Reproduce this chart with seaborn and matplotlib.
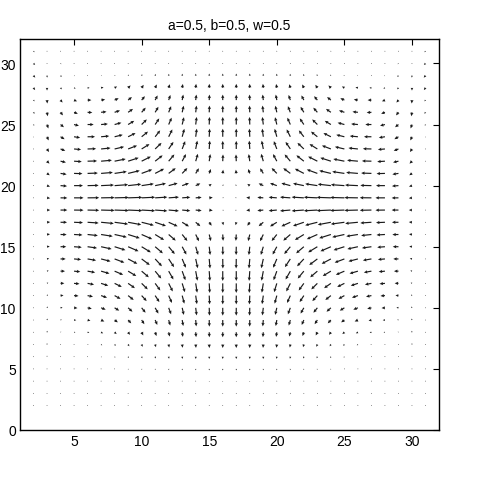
import numpy as np
import matplotlib
matplotlib.use("Agg")
import matplotlib.pyplot as plt
import seaborn as sns

# grid positions
x_vals = list(range(2, 32))          # 30 columns, x = 2..31
y_rows = list(range(31, 1, -1))      # rows listed top (y=31) to bottom (y=2)

# horizontal components, hundredths of an x unit, one row per y (top to bottom)
U_rows = [
    [8,2,1,1,1,1,1,1,1,1,1,1,1,1,1, -1,-1,-1,-1,-1,-1,-1,-1,-1,-1,-1,-1,-1,-2,-8],
    [12,2,6,3,2,2,2,1,1,0,0,0,0,0,0, 0,0,0,0,0,0,-1,-1,-2,-2,-2,-3,-6,-2,-12],
    [13,1,9,6,6,6,6,5,4,3,2,1,1,0,0, 0,0,-1,-1,-2,-3,-4,-5,-6,-6,-6,-6,-9,-1,-13],
    [12,0,10,12,15,18,18,18,15,12,8,5,3,1,0, 0,-1,-3,-5,-8,-12,-15,-18,-18,-18,-15,-12,-10,0,-12],
    [8,2,15,22,28,30,30,28,24,18,13,8,5,2,0, 0,-2,-5,-8,-13,-18,-24,-28,-30,-30,-28,-22,-15,-2,-8],
    [8,5,18,28,35,40,40,36,30,24,18,11,6,2,0, 0,-2,-6,-11,-18,-24,-30,-36,-40,-40,-35,-28,-18,-5,-8],
    [5,10,25,36,45,50,50,45,38,30,22,13,7,2,0, 0,-2,-7,-13,-22,-30,-38,-45,-50,-50,-45,-36,-25,-10,-5],
    [3,12,30,45,55,60,60,55,47,37,27,16,8,3,0, 0,-3,-8,-16,-27,-37,-47,-55,-60,-60,-55,-45,-30,-12,-3],
    [2,15,35,52,63,70,70,66,58,47,35,22,12,4,0, 0,-4,-12,-22,-35,-47,-58,-66,-70,-70,-63,-52,-35,-15,-2],
    [2,18,40,57,70,80,82,78,68,55,42,28,16,8,2, -2,-8,-16,-28,-42,-55,-68,-78,-82,-80,-70,-57,-40,-18,-2],
    [2,20,45,62,76,87,90,86,78,66,52,38,24,12,3, -3,-12,-24,-38,-52,-66,-78,-86,-90,-87,-76,-62,-45,-20,-2],
    [2,22,48,66,82,95,100,97,90,80,66,50,34,18,5, -5,-18,-34,-50,-66,-80,-90,-97,-100,-95,-82,-66,-48,-22,-2],
    [2,23,50,70,86,100,105,105,100,90,76,60,44,26,8, -8,-26,-44,-60,-76,-90,-100,-105,-105,-100,-86,-70,-50,-23,-2],
    [2,23,50,70,86,100,105,105,100,90,76,60,44,26,8, -8,-26,-44,-60,-76,-90,-100,-105,-105,-100,-86,-70,-50,-23,-2],
    [2,23,48,66,82,94,100,97,90,80,66,50,34,18,5, -5,-18,-34,-50,-66,-80,-90,-97,-100,-94,-82,-66,-48,-23,-2],
    [2,22,45,62,76,86,90,86,78,66,52,38,24,12,3, -3,-12,-24,-38,-52,-66,-78,-86,-90,-86,-76,-62,-45,-22,-2],
    [2,20,42,57,70,78,80,77,68,57,45,31,18,7,1, -1,-7,-18,-31,-45,-57,-68,-77,-80,-78,-70,-57,-42,-20,-2],
    [2,16,38,52,63,70,72,68,60,50,40,27,15,6,1, -1,-6,-15,-27,-40,-50,-60,-68,-72,-70,-63,-52,-38,-16,-2],
    [2,12,33,46,56,62,63,60,53,45,35,24,13,5,0, 0,-5,-13,-24,-35,-45,-53,-60,-63,-62,-56,-46,-33,-12,-2],
    [1,9,28,40,48,53,53,50,45,38,30,20,11,4,0, 0,-4,-11,-20,-30,-38,-45,-50,-53,-53,-48,-40,-28,-9,-1],
    [1,7,22,33,40,44,44,41,37,31,24,16,9,3,0, 0,-3,-9,-16,-24,-31,-37,-41,-44,-44,-40,-33,-22,-7,-1],
    [1,5,15,25,31,34,34,32,29,24,18,12,7,2,0, 0,-2,-7,-12,-18,-24,-29,-32,-34,-34,-31,-25,-15,-5,-1],
    [1,3,9,16,21,24,24,23,20,16,12,8,4,1,0, 0,-1,-4,-8,-12,-16,-20,-23,-24,-24,-21,-16,-9,-3,-1],
    [1,2,5,10,13,15,15,14,12,10,8,5,3,1,0, 0,-1,-3,-5,-8,-10,-12,-14,-15,-15,-13,-10,-5,-2,-1],
    [1,0,3,5,7,8,9,9,8,6,4,3,2,1,0, 0,-1,-2,-3,-4,-6,-8,-9,-9,-8,-7,-5,-3,0,-1],
    [1,0,2,3,4,5,5,5,5,4,3,2,1,0,0, 0,0,-1,-2,-3,-4,-5,-5,-5,-5,-4,-3,-2,0,-1],
    [1,2,1,2,2,2,3,3,3,2,2,1,1,0,0, 0,0,-1,-1,-2,-2,-3,-3,-3,-2,-2,-2,-1,-2,-1],
    [1,1,1,1,1,1,2,2,2,1,1,1,0,0,0, 0,0,0,-1,-1,-1,-2,-2,-2,-1,-1,-1,-1,-1,-1],
    [1,1,1,1,1,1,1,1,1,1,0,0,0,0,0, 0,0,0,0,0,-1,-1,-1,-1,-1,-1,-1,-1,-1,-1],
    [1,1,1,1,1,1,1,1,1,1,1,1,1,1,1, -1,-1,-1,-1,-1,-1,-1,-1,-1,-1,-1,-1,-1,-1,-1],
]

# vertical components, hundredths of a y unit, one row per y (top to bottom)
V_rows = [
    [-8,-3,1,1,1,1,1,1,1,1,1,1,1,1,1, 1,1,1,1,1,1,1,1,1,1,1,1,1,-3,-8],
    [-12,-6,-6,-1,0,0,1,4,5,5,5,5,5,5,5, 5,5,5,5,5,5,5,4,1,0,0,-1,-6,-6,-12],
    [-16,-16,-10,-3,0,2,5,9,12,14,15,16,16,17,17, 17,17,16,16,15,14,12,9,5,2,0,-3,-10,-16,-16],
    [-18,-22,-12,-5,0,5,12,20,25,28,30,32,33,33,33, 33,33,33,32,30,28,25,20,12,5,0,-5,-12,-22,-18],
    [-10,-28,-20,-10,0,5,15,25,32,38,42,45,45,45,45, 45,45,45,45,42,38,32,25,15,5,0,-10,-20,-28,-10],
    [-12,-32,-25,-12,-2,5,15,28,38,45,50,54,55,55,55, 55,55,55,54,50,45,38,28,15,5,-2,-12,-25,-32,-12],
    [-10,-32,-22,-10,0,5,15,30,42,50,56,60,62,62,62, 62,62,62,60,56,50,42,30,15,5,0,-10,-22,-32,-10],
    [-6,-30,-20,-8,0,6,16,30,42,52,60,65,66,66,66, 66,66,66,65,60,52,42,30,16,6,0,-8,-20,-30,-6],
    [-3,-25,-15,-5,2,8,18,28,40,50,58,64,68,68,66, 66,68,68,64,58,50,40,28,18,8,2,-5,-15,-25,-3],
    [0,-20,-10,-4,2,8,18,28,38,48,55,58,60,58,55, 55,58,60,58,55,48,38,28,18,8,2,-4,-10,-20,0],
    [0,-15,-8,-2,3,8,15,23,32,38,43,44,42,36,30, 30,36,42,44,43,38,32,23,15,8,3,-2,-8,-15,0],
    [0,-8,-4,0,2,5,8,12,15,18,20,20,18,14,10, 10,14,18,20,20,18,15,12,8,5,2,0,-4,-8,0],
    [0,-3,-1,0,1,2,3,4,5,6,6,5,4,3,2, 2,3,4,5,6,6,5,4,3,2,1,0,-1,-3,0],
    [0,0,0,-1,-2,-3,-4,-5,-6,-7,-7,-6,-5,-4,-3, -3,-4,-5,-6,-7,-7,-6,-5,-4,-3,-2,-1,0,0,0],
    [0,2,0,-3,-6,-10,-15,-20,-25,-30,-33,-34,-32,-28,-24, -24,-28,-32,-34,-33,-30,-25,-20,-15,-10,-6,-3,0,2,0],
    [1,3,-1,-4,-9,-15,-22,-30,-38,-45,-50,-53,-55,-54,-52, -52,-54,-55,-53,-50,-45,-38,-30,-22,-15,-9,-4,-1,3,1],
    [2,3,0,-5,-11,-19,-28,-37,-46,-54,-60,-64,-67,-68,-68, -68,-68,-67,-64,-60,-54,-46,-37,-28,-19,-11,-5,0,3,2],
    [3,4,0,-5,-12,-20,-30,-40,-50,-60,-67,-72,-76,-78,-78, -78,-78,-76,-72,-67,-60,-50,-40,-30,-20,-12,-5,0,4,3],
    [4,5,0,-5,-11,-20,-30,-40,-50,-60,-68,-74,-78,-80,-80, -80,-80,-78,-74,-68,-60,-50,-40,-30,-20,-11,-5,0,5,4],
    [5,7,1,-4,-10,-19,-29,-39,-49,-58,-66,-72,-76,-78,-78, -78,-78,-76,-72,-66,-58,-49,-39,-29,-19,-10,-4,1,7,5],
    [6,9,2,-3,-9,-17,-27,-36,-45,-53,-60,-66,-70,-72,-72, -72,-72,-70,-66,-60,-53,-45,-36,-27,-17,-9,-3,2,9,6],
    [6,11,3,-2,-8,-15,-23,-32,-40,-47,-53,-58,-62,-64,-64, -64,-64,-62,-58,-53,-47,-40,-32,-23,-15,-8,-2,3,11,6],
    [6,12,4,-1,-6,-12,-19,-27,-34,-40,-45,-49,-52,-54,-54, -54,-54,-52,-49,-45,-40,-34,-27,-19,-12,-6,-1,4,12,6],
    [5,12,5,0,-4,-9,-15,-21,-26,-31,-35,-38,-40,-41,-41, -41,-41,-40,-38,-35,-31,-26,-21,-15,-9,-4,0,5,12,5],
    [5,11,5,1,-3,-7,-11,-15,-19,-22,-25,-27,-28,-29,-29, -29,-29,-28,-27,-25,-22,-19,-15,-11,-7,-3,1,5,11,5],
    [4,9,4,1,-2,-5,-8,-11,-13,-15,-17,-18,-19,-19,-19, -19,-19,-19,-18,-17,-15,-13,-11,-8,-5,-2,1,4,9,4],
    [3,6,3,1,-1,-3,-5,-7,-8,-9,-10,-11,-11,-12,-12, -12,-12,-11,-11,-10,-9,-8,-7,-5,-3,-1,1,3,6,3],
    [2,4,2,1,0,-2,-3,-4,-5,-5,-6,-6,-6,-7,-7, -7,-7,-6,-6,-6,-5,-5,-4,-3,-2,0,1,2,4,2],
    [1,2,1,0,0,-1,-1,-2,-2,-2,-3,-3,-3,-3,-3, -3,-3,-3,-3,-3,-2,-2,-2,-1,-1,0,0,1,2,1],
    [0,0,0,0,0,0,0,0,0,0,0,0,0,0,0, 0,0,0,0,0,0,0,0,0,0,0,0,0,0,0],
]

title_text = "a=0.5, b=0.5, w=0.5"
x_ticks = [5, 10, 15, 20, 25, 30]
y_ticks = [0, 5, 10, 15, 20, 25, 30]

sns.set_theme(style="white")
plt.rcParams["font.family"] = ["Liberation Sans", "DejaVu Sans"]

fig = plt.figure(figsize=(4.85, 4.85), dpi=100)
fig.patch.set_facecolor("white")
ax = fig.add_axes([20 / 485, 1 - 431 / 485, 419 / 485, 391 / 485])
ax.set_facecolor("white")

X, Y = np.meshgrid(np.array(x_vals), np.array(y_rows))
U = np.array(U_rows, dtype=float) / 100.0
V = np.array(V_rows, dtype=float) / 100.0

ax.quiver(X, Y, U, V, angles="xy", scale_units="xy", scale=1,
          color="#1a1a1a", width=0.0028, headwidth=2.8, headlength=3.0,
          headaxislength=2.7, pivot="tail", minlength=0.7)

ax.set_xlim(1, 32)
ax.set_ylim(0, 32)
ax.set_xticks(x_ticks)
ax.set_yticks(y_ticks)
ax.tick_params(direction="in", length=4, width=0.8, top=True, right=True,
               labelsize=10, colors="black", pad=3)
ax.tick_params(axis="y", pad=3)
for s in ax.spines.values():
    s.set_visible(True)
    s.set_color("black")
    s.set_linewidth(1.0)
ax.grid(False)
ax.set_title(title_text, fontsize=10, pad=7, color="black")

fig.savefig("out.png", dpi=100, facecolor="white")
